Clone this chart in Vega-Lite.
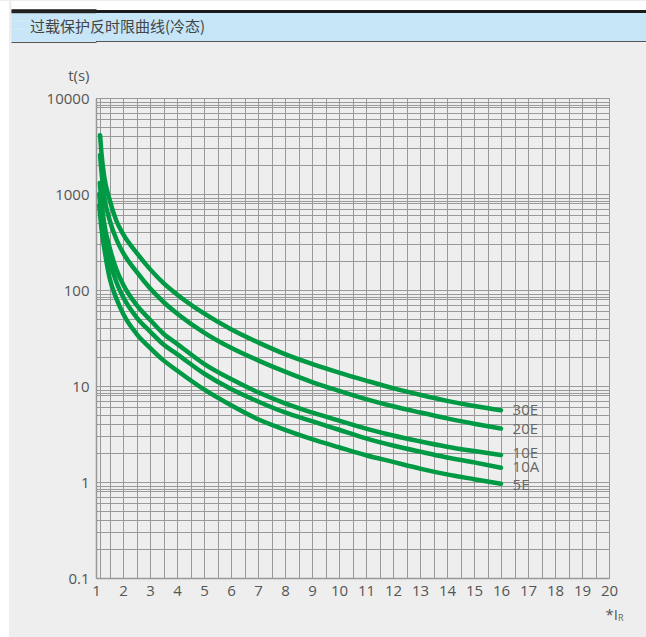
{
  "$schema": "https://vega.github.io/schema/vega-lite/v6.json",
  "padding": 0,
  "background": "#eeeeee",
  "spacing": 0,
  "config": {
    "view": {"stroke": null},
    "concat": {"spacing": 0},
    "font": "Open Sans"
  },
  "datasets": {
    "curves": [
      {"curve": "30E", "I": 1.15, "t": 4100}, {"curve": "30E", "I": 1.2, "t": 2700}, {"curve": "30E", "I": 1.3, "t": 1550},
      {"curve": "30E", "I": 1.5, "t": 880}, {"curve": "30E", "I": 1.75, "t": 530}, {"curve": "30E", "I": 2, "t": 385},
      {"curve": "30E", "I": 2.5, "t": 245}, {"curve": "30E", "I": 3, "t": 165}, {"curve": "30E", "I": 3.5, "t": 118},
      {"curve": "30E", "I": 4, "t": 90}, {"curve": "30E", "I": 5, "t": 57}, {"curve": "30E", "I": 6, "t": 39},
      {"curve": "30E", "I": 7, "t": 28.5}, {"curve": "30E", "I": 8, "t": 21.5}, {"curve": "30E", "I": 9, "t": 17},
      {"curve": "30E", "I": 10, "t": 13.8}, {"curve": "30E", "I": 11, "t": 11.4}, {"curve": "30E", "I": 12, "t": 9.5},
      {"curve": "30E", "I": 13, "t": 8.1}, {"curve": "30E", "I": 14, "t": 7.0}, {"curve": "30E", "I": 15, "t": 6.2},
      {"curve": "30E", "I": 16, "t": 5.6},
      {"curve": "20E", "I": 1.15, "t": 2550}, {"curve": "20E", "I": 1.2, "t": 1750}, {"curve": "20E", "I": 1.3, "t": 960},
      {"curve": "20E", "I": 1.5, "t": 540}, {"curve": "20E", "I": 1.75, "t": 340}, {"curve": "20E", "I": 2, "t": 245},
      {"curve": "20E", "I": 2.5, "t": 155}, {"curve": "20E", "I": 3, "t": 104}, {"curve": "20E", "I": 3.5, "t": 75},
      {"curve": "20E", "I": 4, "t": 57}, {"curve": "20E", "I": 5, "t": 36}, {"curve": "20E", "I": 6, "t": 25},
      {"curve": "20E", "I": 7, "t": 18.5}, {"curve": "20E", "I": 8, "t": 14.1}, {"curve": "20E", "I": 9, "t": 11.0},
      {"curve": "20E", "I": 10, "t": 8.9}, {"curve": "20E", "I": 11, "t": 7.3}, {"curve": "20E", "I": 12, "t": 6.15},
      {"curve": "20E", "I": 13, "t": 5.3}, {"curve": "20E", "I": 14, "t": 4.6}, {"curve": "20E", "I": 15, "t": 4.05},
      {"curve": "20E", "I": 16, "t": 3.6},
      {"curve": "10E", "I": 1.14, "t": 1300}, {"curve": "10E", "I": 1.2, "t": 870}, {"curve": "10E", "I": 1.25, "t": 640},
      {"curve": "10E", "I": 1.3, "t": 500}, {"curve": "10E", "I": 1.5, "t": 280}, {"curve": "10E", "I": 1.75, "t": 165},
      {"curve": "10E", "I": 2, "t": 115}, {"curve": "10E", "I": 2.5, "t": 70}, {"curve": "10E", "I": 3, "t": 49},
      {"curve": "10E", "I": 3.5, "t": 35}, {"curve": "10E", "I": 4, "t": 27.5}, {"curve": "10E", "I": 5, "t": 17},
      {"curve": "10E", "I": 6, "t": 11.8}, {"curve": "10E", "I": 7, "t": 8.6}, {"curve": "10E", "I": 8, "t": 6.6},
      {"curve": "10E", "I": 9, "t": 5.3}, {"curve": "10E", "I": 10, "t": 4.35}, {"curve": "10E", "I": 11, "t": 3.6},
      {"curve": "10E", "I": 12, "t": 3.05}, {"curve": "10E", "I": 13, "t": 2.65}, {"curve": "10E", "I": 14, "t": 2.33},
      {"curve": "10E", "I": 15, "t": 2.1}, {"curve": "10E", "I": 16, "t": 1.91},
      {"curve": "10A", "I": 1.12, "t": 1000}, {"curve": "10A", "I": 1.2, "t": 640}, {"curve": "10A", "I": 1.25, "t": 470},
      {"curve": "10A", "I": 1.3, "t": 365}, {"curve": "10A", "I": 1.5, "t": 205}, {"curve": "10A", "I": 1.75, "t": 122},
      {"curve": "10A", "I": 2, "t": 85}, {"curve": "10A", "I": 2.5, "t": 52}, {"curve": "10A", "I": 3, "t": 37},
      {"curve": "10A", "I": 3.5, "t": 27}, {"curve": "10A", "I": 4, "t": 21.5}, {"curve": "10A", "I": 5, "t": 13.5},
      {"curve": "10A", "I": 6, "t": 9.3}, {"curve": "10A", "I": 7, "t": 6.9}, {"curve": "10A", "I": 8, "t": 5.3},
      {"curve": "10A", "I": 9, "t": 4.3}, {"curve": "10A", "I": 10, "t": 3.5}, {"curve": "10A", "I": 11, "t": 2.85},
      {"curve": "10A", "I": 12, "t": 2.4}, {"curve": "10A", "I": 13, "t": 2.07}, {"curve": "10A", "I": 14, "t": 1.8},
      {"curve": "10A", "I": 15, "t": 1.6}, {"curve": "10A", "I": 16, "t": 1.41},
      {"curve": "5E", "I": 1.12, "t": 760}, {"curve": "5E", "I": 1.16, "t": 580}, {"curve": "5E", "I": 1.2, "t": 440},
      {"curve": "5E", "I": 1.3, "t": 280}, {"curve": "5E", "I": 1.5, "t": 135}, {"curve": "5E", "I": 1.75, "t": 82},
      {"curve": "5E", "I": 2, "t": 57}, {"curve": "5E", "I": 2.5, "t": 35}, {"curve": "5E", "I": 3, "t": 25},
      {"curve": "5E", "I": 3.5, "t": 18.5}, {"curve": "5E", "I": 4, "t": 14.5}, {"curve": "5E", "I": 5, "t": 9.2},
      {"curve": "5E", "I": 6, "t": 6.3}, {"curve": "5E", "I": 7, "t": 4.5}, {"curve": "5E", "I": 8, "t": 3.5},
      {"curve": "5E", "I": 9, "t": 2.8}, {"curve": "5E", "I": 10, "t": 2.3}, {"curve": "5E", "I": 11, "t": 1.9},
      {"curve": "5E", "I": 12, "t": 1.62}, {"curve": "5E", "I": 13, "t": 1.38}, {"curve": "5E", "I": 14, "t": 1.2},
      {"curve": "5E", "I": 15, "t": 1.07}, {"curve": "5E", "I": 16, "t": 0.96}
    ],
    "labels": [
      {"curve": "30E", "I": 16.43, "t": 5.6},
      {"curve": "20E", "I": 16.43, "t": 3.6},
      {"curve": "10E", "I": 16.43, "t": 2.0},
      {"curve": "10A", "I": 16.43, "t": 1.42},
      {"curve": "5E", "I": 16.43, "t": 0.92}
    ],
    "sub": [
      {"s": "R", "I": 20.33, "t": 0.0383}
    ],
    "heading": [
      {"label": "过载保护反时限曲线(冷态)", "p": 0, "v": 14}
    ]
  },
  "hconcat": [
    {
      "width": 9,
      "height": 637,
      "view": {"fill": "#ffffff", "stroke": null},
      "data": {"values": []},
      "mark": "point"
    },
    {
      "spacing": 0,
      "bounds": "flush",
      "vconcat": [
        {
          "width": 552, "height": 9,
          "view": {"fill": "#ffffff", "stroke": null},
          "data": {"values": []},
          "mark": "point",
          "encoding": {
            "y": {"field": "v", "type": "quantitative", "scale": {"domain": [0, 9]},
                  "axis": {"values": [1.5, 3.5, 5.5, 7.5, 8.5], "tickCount": 50, "tickSize": 85, "tickWidth": 2.5, "tickColor": "#ffffff", "tickCap": "butt", "labels": false, "domain": false, "grid": false, "title": null, "minExtent": 85, "maxExtent": 85}}
          }
        },
        {
          "width": 552, "height": 3,
          "view": {"fill": "#1a1a1a", "stroke": null},
          "data": {"values": []},
          "mark": "point",
          "encoding": {
            "y": {"field": "v", "type": "quantitative", "scale": {"domain": [0, 3]},
                  "axis": {"values": [1.5, 2.5], "tickCount": 50, "tickSize": 85, "tickWidth": 2.5, "tickColor": "#1a1a1a", "tickCap": "butt", "labels": false, "domain": false, "grid": false, "title": null, "minExtent": 85, "maxExtent": 85}}
          }
        },
        {
          "width": 552, "height": 28,
          "view": {"fill": "#c6e6f8", "stroke": null},
          "data": {"name": "heading"},
          "mark": {"type": "text", "align": "left", "baseline": "middle", "font": "Noto Sans CJK SC", "fontSize": 15, "color": "#444444", "clip": false},
          "encoding": {
            "x": {"field": "p", "type": "quantitative", "scale": {"domain": [0.1068, 1], "nice": false, "zero": false}, "axis": null},
            "y": {"field": "v", "type": "quantitative", "scale": {"domain": [0, 28]},
                  "axis": {"values": [1.5, 3.5, 5.5, 7.5, 9.5, 11.5, 13.5, 15.5, 17.5, 19.5, 21.5, 23.5, 25.5, 27.5], "tickCount": 50, "tickSize": 85, "tickWidth": 2.5, "tickColor": "#c6e6f8", "tickCap": "butt", "labels": false, "domain": false, "grid": false, "title": null, "minExtent": 85, "maxExtent": 85}},
            "text": {"field": "label"}
          }
        },
        {
          "width": 552, "height": 1,
          "view": {"fill": "#555555", "stroke": null},
          "data": {"values": []},
          "mark": "point",
          "encoding": {
            "y": {"field": "v", "type": "quantitative", "scale": {"domain": [0, 1]},
                  "axis": {"values": [0.5], "tickCount": 50, "tickSize": 85, "tickWidth": 1, "tickColor": "#555555", "tickCap": "butt", "labels": false, "domain": false, "grid": false, "title": null, "minExtent": 85, "maxExtent": 85}}
          }
        },
        {
          "width": 552, "height": 56,
          "data": {"values": []},
          "mark": "point"
        },
        {
          "width": 513,
          "height": 480,
          "view": {"stroke": "#999999"},
          "layer": [
            {
              "data": {"name": "curves"},
              "mark": {"type": "line", "color": "#009944", "strokeWidth": 4.5, "interpolate": "monotone", "strokeCap": "round", "strokeJoin": "round"},
              "encoding": {
                "x": {
                  "field": "I", "type": "quantitative",
                  "scale": {"domain": [1, 20], "nice": false, "zero": false},
                  "axis": {
                    "values": [1, 1.15, 1.5, 2, 2.5, 3, 3.5, 4, 4.5, 5, 5.5, 6, 6.5, 7, 7.5, 8, 8.5, 9, 9.5, 10, 10.5, 11, 11.5, 12, 12.5, 13, 13.5, 14, 14.5, 15, 15.5, 16, 16.5, 17, 17.5, 18, 18.5, 19, 19.5, 20],
                    "tickCount": 200,
                    "labelExpr": "datum.value % 1 === 0 ? format(datum.value, 'd') : ''",
                    "grid": true, "gridColor": "#999999", "gridWidth": 1,
                    "ticks": false,
                    "domainColor": "#999999", "domainWidth": 1.5,
                    "labelFontSize": 15, "labelColor": "#555555", "labelPadding": 5,
                    "labelOverlap": false, "labelFlush": false,
                    "title": "*I",
                    "titleX": 509, "titleY": 36, "titleAlign": "left", "titleBaseline": "middle",
                    "titleFontSize": 15, "titleFontWeight": "normal", "titleColor": "#555555"
                  }
                },
                "y": {
                  "field": "t", "type": "quantitative",
                  "scale": {"type": "log", "domain": [0.1, 10000], "nice": false},
                  "axis": {
                    "values": [0.1, 0.2, 0.3, 0.4, 0.5, 0.6, 0.7, 0.8, 0.85, 0.9, 1, 2, 3, 4, 5, 6, 7, 8, 8.5, 9, 10, 20, 30, 40, 50, 60, 70, 80, 85, 90, 100, 200, 300, 400, 500, 600, 700, 800, 850, 900, 1000, 2000, 3000, 4000, 5000, 6000, 7000, 8000, 8500, 9000, 10000],
                    "tickCount": 200,
                    "labelExpr": "indexof([0.1, 1, 10, 100, 1000, 10000], datum.value) >= 0 ? format(datum.value, '~g') : ''",
                    "grid": true, "gridColor": "#999999", "gridWidth": 1,
                    "ticks": false,
                    "domainColor": "#999999", "domainWidth": 1.5,
                    "labelFontSize": 15, "labelColor": "#555555", "labelPadding": 7,
                    "labelOverlap": false, "labelFlush": false,
                    "minExtent": 85,
                    "title": "t(s)",
                    "titleAngle": 0, "titleX": -7, "titleY": -23, "titleAlign": "right", "titleBaseline": "middle",
                    "titleFontSize": 15, "titleFontWeight": "normal", "titleColor": "#555555"
                  }
                },
                "detail": {"field": "curve"}
              }
            },
            {
              "data": {"name": "labels"},
              "mark": {"type": "text", "align": "left", "baseline": "middle", "fontSize": 15, "color": "#666666"},
              "encoding": {
                "x": {"field": "I", "type": "quantitative", "title": "*I"},
                "y": {"field": "t", "type": "quantitative", "title": "t(s)"},
                "text": {"field": "curve"}
              }
            },
            {
              "data": {"name": "sub"},
              "mark": {"type": "text", "align": "left", "baseline": "middle", "fontSize": 9, "color": "#666666", "clip": false},
              "encoding": {
                "x": {"field": "I", "type": "quantitative", "title": "*I"},
                "y": {"field": "t", "type": "quantitative", "title": "t(s)"},
                "text": {"field": "s"}
              }
            }
          ]
        }
      ]
    }
  ]
}
